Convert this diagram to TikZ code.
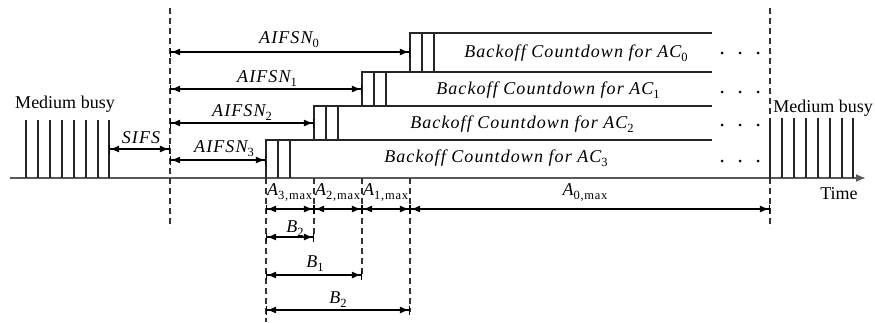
\documentclass[tikz,border=0pt]{standalone}
\usepackage{fontspec}
\setmainfont{Liberation Serif}
\newfontfamily\spfam{Liberation Serif}[LetterSpace=6]
\usetikzlibrary{arrows.meta}
\newcommand\lab[2]{{\spfam\itshape #1}\raisebox{-4.5pt}{\fontsize{12.5}{12.5}\selectfont\spfam #2}}
\begin{document}
\begin{tikzpicture}[x=1pt,y=-1pt,
  every node/.style={font=\fontsize{18}{21}\selectfont, inner sep=0pt},
  ln/.style={line width=1.1pt, draw=black!85},
  axisline/.style={line width=1.8pt, draw=black!65, -{Latex[length=10pt,width=8pt]}},
  guide/.style={line width=1.1pt, draw=black!80, dash pattern=on 6pt off 4pt},
  dim/.style={line width=1.1pt, {Bar[width=9pt]Latex[length=9pt,width=7pt]}-{Latex[length=9pt,width=7pt]Bar[width=9pt]}},
  dotmark/.style={fill=black, draw=none}
]
\useasboundingbox (0,0) rectangle (875,322);

% time axis
\coordinate (ax0) at (10,178);
\coordinate (ax1) at (866,178);
\draw[axisline] (ax0) -- (ax1);

% dashed guides
\coordinate (gL0) at (170,8);   \coordinate (gL1) at (170,228);
\coordinate (gR0) at (770,8);   \coordinate (gR1) at (770,228);
\coordinate (g30) at (266,178); \coordinate (g31) at (266,322);
\coordinate (g20) at (314,178); \coordinate (g21) at (314,238);
\coordinate (g10) at (362,178); \coordinate (g11) at (362,276);
\coordinate (g00) at (410,178); \coordinate (g01) at (410,312);
\draw[guide] (gL0) -- (gL1);
\draw[guide] (gR0) -- (gR1);
\draw[guide] (g30) -- (g31);
\draw[guide] (g20) -- (g21);
\draw[guide] (g10) -- (g11);
\draw[guide] (g00) -- (g01);

% medium busy bursts
\foreach \x [count=\i] in {26,38,50,62,74,86,98,109}{
  \coordinate (bl\i a) at (\x,120); \coordinate (bl\i b) at (\x,178);
  \draw[ln] (bl\i a) -- (bl\i b);
}
\foreach \x [count=\i] in {770,782,794,806,818,830,842,853}{
  \coordinate (br\i a) at (\x,118); \coordinate (br\i b) at (\x,178);
  \draw[ln] (br\i a) -- (br\i b);
}
\node[anchor=base] (mbL) at (65,108) {Medium busy};
\node[anchor=base] (mbR) at (823,112) {Medium busy};
\node[anchor=base] (time) at (839,199) {Time};

% backoff boxes
\foreach \l/\t/\b/\k in {410/33/72/0, 362/72/106/1, 314/106/140/2, 266/140/178/3}{
  \coordinate (bx\k r) at (712,\t);
  \coordinate (bx\k t) at (\l,\t);
  \coordinate (bx\k b) at (\l,\b);
  \draw[ln] (bx\k r) -- (bx\k t) -- (bx\k b);
  \draw[ln] ([xshift=12pt]bx\k t) -- ([xshift=12pt]bx\k b);
  \draw[ln] ([xshift=24pt]bx\k t) -- ([xshift=24pt]bx\k b);
}
\node[anchor=base] (bt0) at (576,57)  {\lab{Backoff Countdown for AC}{0}};
\node[anchor=base] (bt1) at (548,94)  {\lab{Backoff Countdown for AC}{1}};
\node[anchor=base] (bt2) at (522,128) {\lab{Backoff Countdown for AC}{2}};
\node[anchor=base] (bt3) at (496,162) {\lab{Backoff Countdown for AC}{3}};

% dots
\foreach \y [count=\j] in {53,92,125,161}{
  \foreach \x [count=\i] in {722,740,758}{
    \fill[dotmark] (\x,\y) circle (1.5pt);
  }
}

% SIFS
\coordinate (s0) at (109,149); \coordinate (s1) at (170,149);
\draw[dim] (s0) -- (s1);
\node[anchor=base] (sifs) at (141,143) {{\spfam\itshape SIFS}};

% AIFSN arrows
\coordinate (a0s) at (170,52);  \coordinate (a0e) at (410,52);
\coordinate (a1s) at (170,89);  \coordinate (a1e) at (362,89);
\coordinate (a2s) at (170,123); \coordinate (a2e) at (314,123);
\coordinate (a3s) at (170,160); \coordinate (a3e) at (266,160);
\draw[dim] (a0s) -- (a0e);
\draw[dim] (a1s) -- (a1e);
\draw[dim] (a2s) -- (a2e);
\draw[dim] (a3s) -- (a3e);
\node[anchor=base] (l0) at (289,43)  {\lab{AIFSN}{0}};
\node[anchor=base] (l1) at (267,82)  {\lab{AIFSN}{1}};
\node[anchor=base] (l2) at (242,116) {\lab{AIFSN}{2}};
\node[anchor=base] (l3) at (224,152) {\lab{AIFSN}{3}};

% A row
\coordinate (r3) at (266,209); \coordinate (r2) at (314,209);
\coordinate (r1) at (362,209); \coordinate (r0) at (410,209);
\coordinate (rE) at (770,209);
\draw[dim] (r3) -- (r2);
\draw[dim] (r2) -- (r1);
\draw[dim] (r1) -- (r0);
\draw[dim] (r0) -- (rE);
\node[anchor=base west] (A3) at (267,195) {\lab{A}{3,max}};
\node[anchor=base west] (A2) at (315,195) {\lab{A}{2,max}};
\node[anchor=base west] (A1) at (363,195) {\lab{A}{1,max}};
\node[anchor=base] (A0) at (585,195) {\lab{A}{0,max}};

% B rows
\coordinate (b2s) at (266,237); \coordinate (b2e) at (314,237);
\coordinate (b1s) at (266,275); \coordinate (b1e) at (362,275);
\coordinate (b0s) at (266,310); \coordinate (b0e) at (410,310);
\draw[dim] (b2s) -- (b2e);
\draw[dim] (b1s) -- (b1e);
\draw[dim] (b0s) -- (b0e);
\node[anchor=base] (B2a) at (295,232) {\lab{B}{2}};
\node[anchor=base] (B1)  at (315,267) {\lab{B}{1}};
\node[anchor=base] (B2b) at (338,303) {\lab{B}{2}};
\end{tikzpicture}
\end{document}
